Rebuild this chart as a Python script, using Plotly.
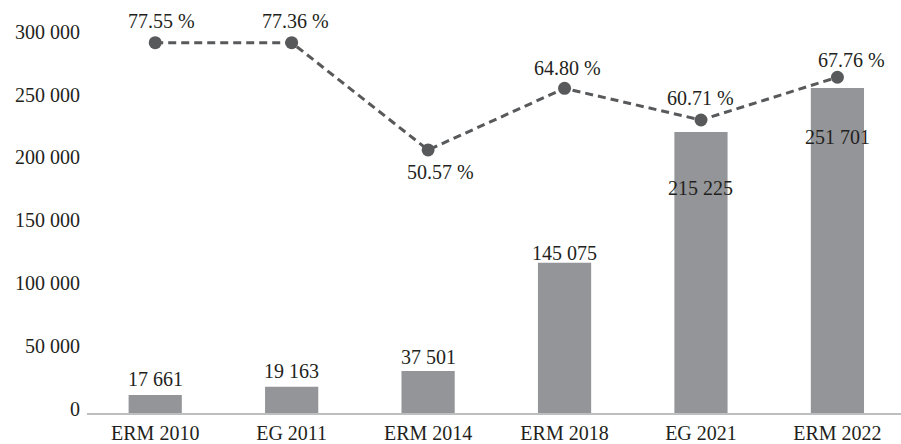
import plotly.graph_objects as go

categories = ["ERM 2010", "EG 2011", "ERM 2014", "ERM 2018", "EG 2021", "ERM 2022"]
# bar heights as drawn in the picture (axis units)
bar_values = [14300, 20900, 33400, 119500, 223400, 258300]
bar_labels = ["17 661", "19 163", "37 501", "145 075", "215 225", "251 701"]
# line point heights as drawn in the picture (axis units)
line_values = [294400, 294400, 209100, 258100, 232900, 266900]
line_labels = ["77.55 %", "77.36 %", "50.57 %", "64.80 %", "60.71 %", "67.76 %"]
tick_values = [0, 50000, 100000, 150000, 200000, 250000, 300000]
tick_labels = ["0", "50 000", "100 000", "150 000", "200 000", "250 000", "300 000"]

# label placement (styles)
bar_label_yshift = [16, 16, 14, 10, -56, -49]
line_label_yshift = [22, 22, -22, 20, 22, 17]
line_label_xshift = [6, 4, 12, 3, 0, 14]

FONT = "Liberation Serif"
TXT = "#231f20"

fig = go.Figure()
fig.add_trace(go.Bar(
    x=categories, y=bar_values,
    marker=dict(color="#939598", line=dict(width=0)),
    hoverinfo="skip",
))
fig.add_trace(go.Scatter(
    x=categories, y=line_values,
    mode="lines+markers",
    line=dict(color="#58595b", width=3, dash="8px,5px"),
    marker=dict(color="#58595b", size=13),
    hoverinfo="skip",
))

annotations = []
for c, v, t, ys in zip(categories, bar_values, bar_labels, bar_label_yshift):
    annotations.append(dict(x=c, y=v, xref="x", yref="y", text=t, showarrow=False,
                            yanchor="middle", yshift=ys,
                            font=dict(family=FONT, size=20, color=TXT)))
for c, v, t, ys, xs in zip(categories, line_values, line_labels, line_label_yshift, line_label_xshift):
    annotations.append(dict(x=c, y=v, xref="x", yref="y", text=t, showarrow=False,
                            yanchor="middle", yshift=ys, xshift=xs,
                            font=dict(family=FONT, size=20, color=TXT)))

fig.update_layout(
    width=901, height=444,
    margin=dict(l=87, r=0, t=10, b=31),
    paper_bgcolor="white", plot_bgcolor="white",
    showlegend=False,
    bargap=0.61,
    font=dict(family=FONT, size=20, color=TXT),
    annotations=annotations,
    xaxis=dict(
        type="category", range=[-0.5, 5.466],
        showline=True, linecolor="#bcbec0", linewidth=2,
        showgrid=False, zeroline=False, ticks="",
        tickfont=dict(family=FONT, size=20, color=TXT),
        automargin=False,
        ticklabelstandoff=1,
    ),
    yaxis=dict(
        range=[0, 320350],
        tickvals=tick_values, ticktext=tick_labels,
        showline=False, showgrid=False, zeroline=False, ticks="",
        tickfont=dict(family=FONT, size=20, color=TXT),
        ticklabelshift=-4,
        ticklabelstandoff=6,
        automargin=False,
    ),
)

fig.write_html(
    "out.html",
    config={"displayModeBar": False, "staticPlot": True},
    post_script="document.body.style.margin='0px';document.body.style.overflow='hidden';",
)
